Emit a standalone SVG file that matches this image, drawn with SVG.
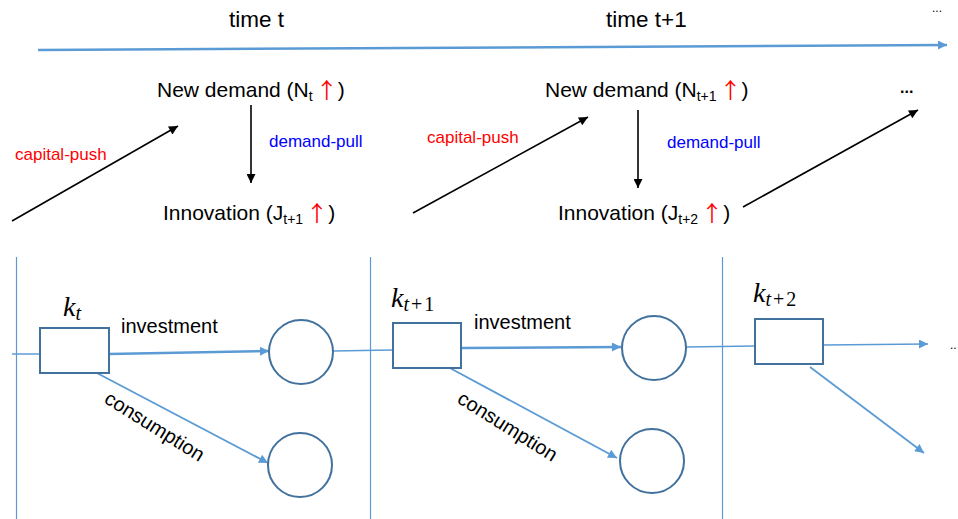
<svg xmlns="http://www.w3.org/2000/svg" width="958" height="519" viewBox="0 0 958 519">
<defs>
<marker id="ab" viewBox="0 0 10 10" refX="10" refY="5" markerWidth="12" markerHeight="9" markerUnits="userSpaceOnUse" orient="auto"><path d="M0,0 L10,5 L0,10 z" fill="#5B9BD5"/></marker>
<marker id="ak" viewBox="0 0 10 10" refX="10" refY="5" markerWidth="12" markerHeight="9" markerUnits="userSpaceOnUse" orient="auto"><path d="M0,0 L10,5 L0,10 z" fill="#000"/></marker>
<style>
.t{font-family:"Liberation Sans",Arial,sans-serif;fill:#000}
.big{font-size:21px}
.sub{font-size:14px}
.sm{font-size:17px}
.lbl{font-size:20px}
.red{fill:#FF0000}
.up{fill:#FF0000;font-family:"Noto Sans CJK JP","DejaVu Sans",sans-serif;font-size:22px}
.blue{fill:#0000FF}
.m{font-family:"Liberation Serif","Times New Roman",serif;font-style:italic;font-size:28px;fill:#000}
.ms{font-size:20px;letter-spacing:2px}
.mr{font-style:normal}
.box{fill:#fff;stroke:#41719C;stroke-width:2}
.circ{fill:#fff;stroke:#41719C;stroke-width:2}
.bl{stroke:#5B9BD5;fill:none}
.bk{stroke:#000;stroke-width:1.6;fill:none}
.vl{stroke:#5B9BD5;stroke-width:1.2}
</style>
</defs>
<rect width="958" height="519" fill="#fff"/>

<g id="time-labels">
<text class="t" x="229" y="27" font-size="22.5">time t</text>
<text class="t" x="606" y="27" font-size="22.5">time t+1</text>
<text class="t" x="932" y="12" font-size="12">...</text>
</g>

<g id="separators">
<line class="vl" x1="16.5" y1="257" x2="16.5" y2="519"/>
<line class="vl" x1="370.5" y1="257" x2="370.5" y2="519"/>
<line class="vl" x1="722.5" y1="257" x2="722.5" y2="519"/>
</g>

<g id="connectors">
<line class="bl" x1="38" y1="50" x2="947" y2="45" stroke-width="2.5" marker-end="url(#ab)"/>
<line class="bk" x1="12" y1="221" x2="178" y2="126" marker-end="url(#ak)"/>
<line class="bk" x1="251" y1="105" x2="251" y2="183" marker-end="url(#ak)"/>
<line class="bk" x1="413" y1="213" x2="588" y2="117" marker-end="url(#ak)"/>
<line class="bk" x1="638" y1="110" x2="638" y2="188" marker-end="url(#ak)"/>
<line class="bk" x1="743" y1="207" x2="918" y2="110" marker-end="url(#ak)"/>

<line class="bl" x1="12" y1="354" x2="40" y2="354" stroke-width="1.5"/>
<line class="bl" x1="109" y1="354" x2="269" y2="351" stroke-width="2.5" marker-end="url(#ab)"/>
<line class="bl" x1="95" y1="372" x2="268" y2="463" stroke-width="1.8" marker-end="url(#ab)"/>
<line class="bl" x1="333" y1="351" x2="393" y2="350" stroke-width="1.5"/>
<line class="bl" x1="461" y1="348" x2="621" y2="347" stroke-width="2.5" marker-end="url(#ab)"/>
<line class="bl" x1="448" y1="367" x2="617" y2="458" stroke-width="1.8" marker-end="url(#ab)"/>
<line class="bl" x1="686" y1="347" x2="755" y2="346" stroke-width="1.5"/>
<line class="bl" x1="823" y1="345" x2="928" y2="344" stroke-width="1.5" marker-end="url(#ab)"/>
<line class="bl" x1="810" y1="367" x2="924" y2="453" stroke-width="1.8" marker-end="url(#ab)"/>
</g>

<g id="demand-t">
<text class="t big" x="157" y="97">New demand (N<tspan class="sub" dy="4">t</tspan><tspan class="up" dy="-3" dx="3">↑</tspan><tspan dy="-1">)</tspan></text>
</g>
<g id="innovation-t1">
<text class="t big" x="163" y="220">Innovation (J<tspan class="sub" dy="4">t+1</tspan><tspan class="up" dy="-3" dx="3">↑</tspan><tspan dy="-1">)</tspan></text>
</g>
<g id="demand-t1">
<text class="t big" x="545" y="97">New demand (N<tspan class="sub" dy="4">t+1</tspan><tspan class="up" dy="-3" dx="3">↑</tspan><tspan dy="-1">)</tspan></text>
</g>
<g id="innovation-t2">
<text class="t big" x="558" y="220">Innovation (J<tspan class="sub" dy="4">t+2</tspan><tspan class="up" dy="-3" dx="3">↑</tspan><tspan dy="-1">)</tspan></text>
</g>
<g id="more-top">
<text class="t" x="900" y="93" font-size="16" font-weight="bold">...</text>
</g>

<g id="edge-labels">
<text class="t sm red" x="15" y="160">capital-push</text>
<text class="t sm blue" x="269" y="147">demand-pull</text>
<text class="t sm red" x="427" y="143">capital-push</text>
<text class="t sm blue" x="667" y="148">demand-pull</text>
<text class="t lbl" x="121" y="333">investment</text>
<text class="t lbl" x="474" y="329">investment</text>
<text class="t lbl" transform="translate(103,402) rotate(32)">consumption</text>
<text class="t lbl" transform="translate(456,402) rotate(32)">consumption</text>
</g>

<g id="k-t">
<rect class="box" x="40" y="328" width="69" height="45"/>
<text class="m" x="63" y="316">k<tspan class="ms" dy="4">t</tspan></text>
</g>
<g id="k-t1">
<rect class="box" x="393" y="323" width="68" height="45"/>
<text class="m" x="391" y="307">k<tspan class="ms" dy="4">t<tspan class="mr">+1</tspan></tspan></text>
</g>
<g id="k-t2">
<rect class="box" x="755" y="319" width="68" height="45"/>
<text class="m" x="753" y="302">k<tspan class="ms" dy="4">t<tspan class="mr">+2</tspan></tspan></text>
</g>

<g id="c1"><circle class="circ" cx="301" cy="352" r="32"/></g>
<g id="c2"><circle class="circ" cx="300" cy="465" r="32"/></g>
<g id="c3"><circle class="circ" cx="654" cy="348" r="32"/></g>
<g id="c4"><circle class="circ" cx="652" cy="461" r="32"/></g>

<g id="more-bottom">
<text class="t" x="950" y="349" font-size="12">..</text>
</g>
</svg>
